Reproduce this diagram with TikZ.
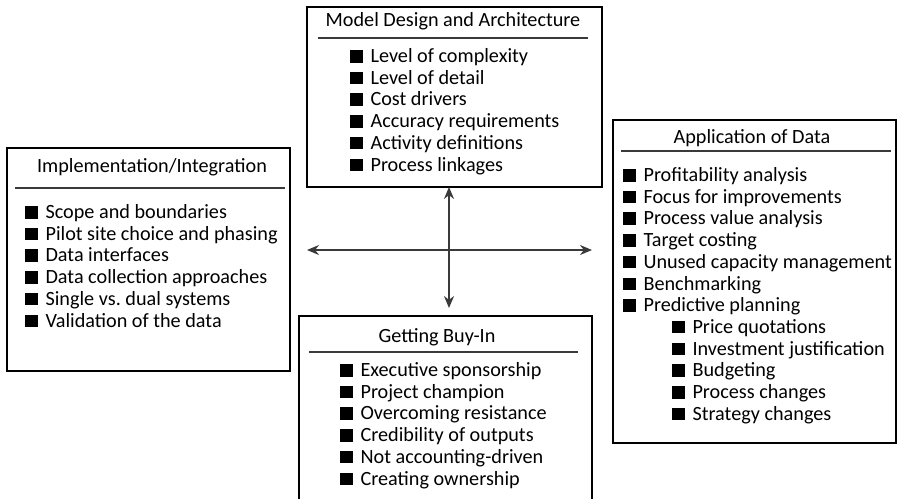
\documentclass[tikz,border=0pt]{standalone}
\usepackage{fontspec}
\setmainfont{Carlito}
\usetikzlibrary{arrows.meta,positioning,calc}
\definecolor{abcgray}{HTML}{3A3A3A}
\newcommand{\blt}{\rule{0.62em}{0.62em}\hspace{0.38em}}
\newcommand{\subblt}{\hspace*{0.98cm}\blt}

\begin{document}
\begin{tikzpicture}[x=0.02cm,y=-0.02cm,
      frame/.style={draw,line width=0.75pt,inner sep=0,outer sep=0},
      head/.style={font=\fontsize{11.5}{13}\selectfont,inner sep=0},
      items/.style={font=\fontsize{11.5}{12.35}\selectfont,align=left,anchor=north west,inner sep=0},
      divider/.style={line width=0.8pt,draw=abcgray},
      arr/.style={{Stealth[length=2.4mm,width=2mm]}-{Stealth[length=2.4mm,width=2mm]},line width=0.8pt,draw=abcgray}]
    \useasboundingbox (0,0) rectangle (900,498);
    \clip (0,0) rectangle (900,498);
    % the four boxes
    \node[frame,minimum width=5.9cm,minimum height=3.6cm] (design) at (454.5,97) {};
    \node[frame,minimum width=5.66cm,minimum height=4.46cm] (impl) at (148.5,259.5) {};
    \node[frame,minimum width=5.66cm,minimum height=6.46cm] (appl) at (754.5,281.5) {};
    \node[frame,minimum width=5.86cm,minimum height=3.88cm] (buyin) at (445.5,413) {};
    % titles
    \node[head] (designtitle) at (453,21) {Model Design and Architecture};
    \node[head] (impltitle) at (152,167) {Implementation/Integration};
    \node[head] (appltitle) at (752,138) {Application of Data};
    \node[head] (buyintitle) at (437,337) {Getting Buy-In};
    \draw[divider] ($(design.north west)+(11,31)$) -- ($(design.north east)+(-14,31)$);
    \draw[divider] ($(impl.north west)+(8,40)$) -- ($(impl.north east)+(-5,40)$);
    \draw[divider] ($(appl.north west)+(8,31)$) -- ($(appl.north east)+(-5,31)$);
    \draw[divider] ($(buyin.north west)+(10,36)$) -- ($(buyin.north east)+(-14,36)$);
    % item lists
    \node[items] (designlist) at (350,47) {\strut\blt Level of complexity\\\blt Level of detail\\
      \blt Cost drivers\\\blt Accuracy requirements\\\blt Activity definitions\\\blt Process linkages};
    \node[items] (impllist) at (25,203) {\strut\blt Scope and boundaries\\\blt Pilot site choice and phasing\\
      \blt Data interfaces\\\blt Data collection approaches\\\blt Single vs.\ dual systems\\\blt Validation of the data};
    \node[items] (appllist) at (623,166) {\strut\blt Profitability analysis\\\blt Focus for improvements\\
      \blt Process value analysis\\\blt Target costing\\\blt Unused capacity management\\\blt Benchmarking\\
      \blt Predictive planning\\\subblt Price quotations\\\subblt Investment justification\\
      \subblt Budgeting\\\subblt Process changes\\\subblt Strategy changes};
    \node[items] (buyinlist) at (340,361) {\strut\blt Executive sponsorship\\\blt Project champion\\
      \blt Overcoming resistance\\\blt Credibility of outputs\\\blt Not accounting-driven\\\blt Creating ownership};
    % arrows
    \coordinate (wtip) at (307,250);
    \coordinate (etip) at (592,250);
    \coordinate (stip) at (449,308);
    \draw[arr] (design.south -| stip) -- (stip);
    \draw[arr] (wtip) -- (etip);
  \end{tikzpicture}
\end{document}
